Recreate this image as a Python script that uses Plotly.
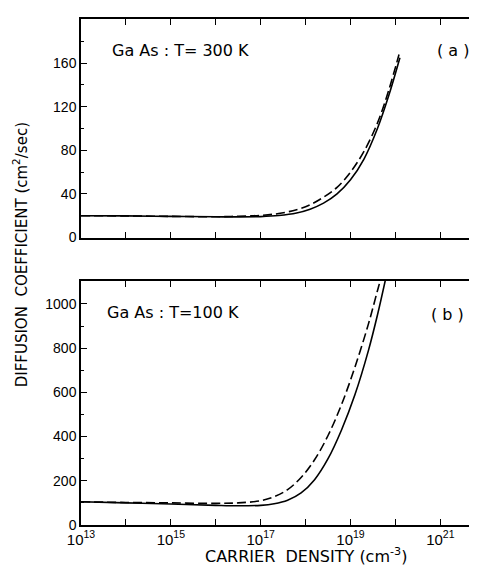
import plotly.graph_objects as go

# ---- data (log10 of carrier density, diffusion coefficient in cm^2/sec) ----
logn_300_solid = [13.0, 14.0, 15.0, 16.0, 16.5, 17.0, 17.4, 17.8, 18.1, 18.4, 18.7, 19.0, 19.3, 19.6, 19.85, 20.1]
d_300_solid    = [20.0, 19.8, 19.4, 19.0, 18.9, 19.2, 20.2, 22.5, 26.0, 31.5, 40.0, 53.0, 72.0, 100.0, 130.0, 165.0]
logn_300_dash  = [13.0, 14.0, 15.0, 16.0, 16.5, 17.0, 17.4, 17.8, 18.1, 18.4, 18.7, 19.0, 19.3, 19.6, 19.85, 20.08]
d_300_dash     = [20.0, 19.8, 19.4, 19.0, 19.5, 20.3, 22.0, 25.5, 30.0, 37.0, 46.0, 60.0, 79.0, 105.0, 135.0, 168.0]

logn_100_solid = [13.0, 14.0, 15.0, 16.0, 16.5, 17.0, 17.3, 17.6, 17.9, 18.2, 18.5, 18.8, 19.1, 19.4, 19.6, 19.8]
d_100_solid    = [105.0, 100.0, 95.0, 89.0, 87.0, 89.0, 96.0, 112.0, 145.0, 205.0, 300.0, 430.0, 590.0, 790.0, 950.0, 1130.0]
logn_100_dash  = [13.0, 14.0, 15.0, 16.0, 16.5, 17.0, 17.3, 17.6, 17.9, 18.2, 18.5, 18.8, 19.1, 19.4, 19.6, 19.75]
d_100_dash     = [105.0, 102.0, 100.0, 98.0, 100.0, 110.0, 128.0, 160.0, 215.0, 295.0, 405.0, 545.0, 715.0, 910.0, 1060.0, 1170.0]

x_tickvals = [1e13, 1e14, 1e15, 1e16, 1e17, 1e18, 1e19, 1e20, 1e21]
x_ticktext = ["10<sup>13</sup>", "", "10<sup>15</sup>", "", "10<sup>17</sup>", "",
              "10<sup>19</sup>", "", "10<sup>21</sup>"]
y_top_ticks = [0, 40, 80, 120, 160]
y_bot_ticks = [0, 200, 400, 600, 800, 1000]

FONT = "Liberation Sans, Arial, sans-serif"
WIDE = "DejaVu Sans, sans-serif"
solid_line = dict(color="black", width=1.6)
dash_line = dict(color="black", width=1.6, dash="9px,4px")

fig = go.Figure()
fig.add_trace(go.Scatter(x=[10 ** v for v in logn_300_solid], y=d_300_solid, mode="lines",
                         line=dict(shape="spline", **solid_line), xaxis="x", yaxis="y", showlegend=False))
fig.add_trace(go.Scatter(x=[10 ** v for v in logn_300_dash], y=d_300_dash, mode="lines",
                         line=dict(shape="spline", **dash_line), xaxis="x", yaxis="y", showlegend=False))
fig.add_trace(go.Scatter(x=[10 ** v for v in logn_100_solid], y=d_100_solid, mode="lines",
                         line=dict(shape="spline", **solid_line), xaxis="x2", yaxis="y2", showlegend=False))
fig.add_trace(go.Scatter(x=[10 ** v for v in logn_100_dash], y=d_100_dash, mode="lines",
                         line=dict(shape="spline", **dash_line), xaxis="x2", yaxis="y2", showlegend=False))

W, H = 477, 567
ml, mr, mt, mb = 73, 0, 11, 50
ph = H - mt - mb  # 506
top_dom = [(517 - 229.5) / ph, 1.0]
bot_dom = [0.0, (517 - 273) / ph]

common_x = dict(type="log", range=[13, 21.95], showline=True, linecolor="black", linewidth=1.5,
                mirror="ticks", ticks="inside", ticklen=6, tickwidth=1.2, tickcolor="black",
                tickvals=x_tickvals, showgrid=False, zeroline=False)
common_y = dict(showline=True, linecolor="black", linewidth=1.5, mirror="ticks", ticks="inside",
                ticklen=6, tickwidth=1.2, tickcolor="black", showgrid=False, zeroline=False,
                tickfont=dict(family=FONT, size=14, color="black"))

fig.update_layout(
    width=W, height=H,
    margin=dict(l=ml, r=mr, t=mt, b=mb),
    paper_bgcolor="white", plot_bgcolor="white",
    font=dict(family=FONT, color="black"),
    xaxis=dict(common_x, anchor="y", showticklabels=False),
    yaxis=dict(common_y, domain=top_dom, anchor="x", range=[0, 200.5], tickvals=y_top_ticks,
               minor=dict(dtick=20, ticks="inside", ticklen=3, tickcolor="black")),
    xaxis2=dict(common_x, anchor="y2", ticktext=x_ticktext,
                tickfont=dict(family=FONT, size=15, color="black")),
    yaxis2=dict(common_y, domain=bot_dom, anchor="x2", range=[0, 1104], tickvals=y_bot_ticks,
                minor=dict(dtick=100, ticks="inside", ticklen=3, tickcolor="black")),
)

ann_font = dict(family=WIDE, size=16, color="black")
fig.add_annotation(text="Ga As : T= 300 K", xref="x domain", yref="y domain", x=0.072, y=0.858,
                   xanchor="left", yanchor="middle", showarrow=False, font=ann_font)
fig.add_annotation(text="( a )", xref="x domain", yref="y domain", x=0.926, y=0.858,
                   xanchor="center", yanchor="middle", showarrow=False, font=ann_font)
fig.add_annotation(text="Ga As : T=100 K", xref="x2 domain", yref="y2 domain", x=0.059, y=0.869,
                   xanchor="left", yanchor="middle", showarrow=False, font=ann_font)
fig.add_annotation(text="( b )", xref="x2 domain", yref="y2 domain", x=0.911, y=0.861,
                   xanchor="center", yanchor="middle", showarrow=False, font=ann_font)

fig.add_annotation(text="DIFFUSION  COEFFICIENT (cm<sup>2</sup>/sec)", xref="paper", yref="paper",
                   x=(12 - ml) / (W - ml - mr), y=(517 - 247) / ph, textangle=-90,
                   xanchor="center", yanchor="middle", showarrow=False,
                   font=dict(family=WIDE, size=15, color="black"))
fig.add_annotation(text="CARRIER  DENSITY (cm<sup>-3</sup>)", xref="paper", yref="paper",
                   x=(299 - ml) / (W - ml - mr), y=(517 - 547) / ph,
                   xanchor="center", yanchor="middle", showarrow=False,
                   font=dict(family=WIDE, size=16, color="black"))

fig.write_html("out.html")
